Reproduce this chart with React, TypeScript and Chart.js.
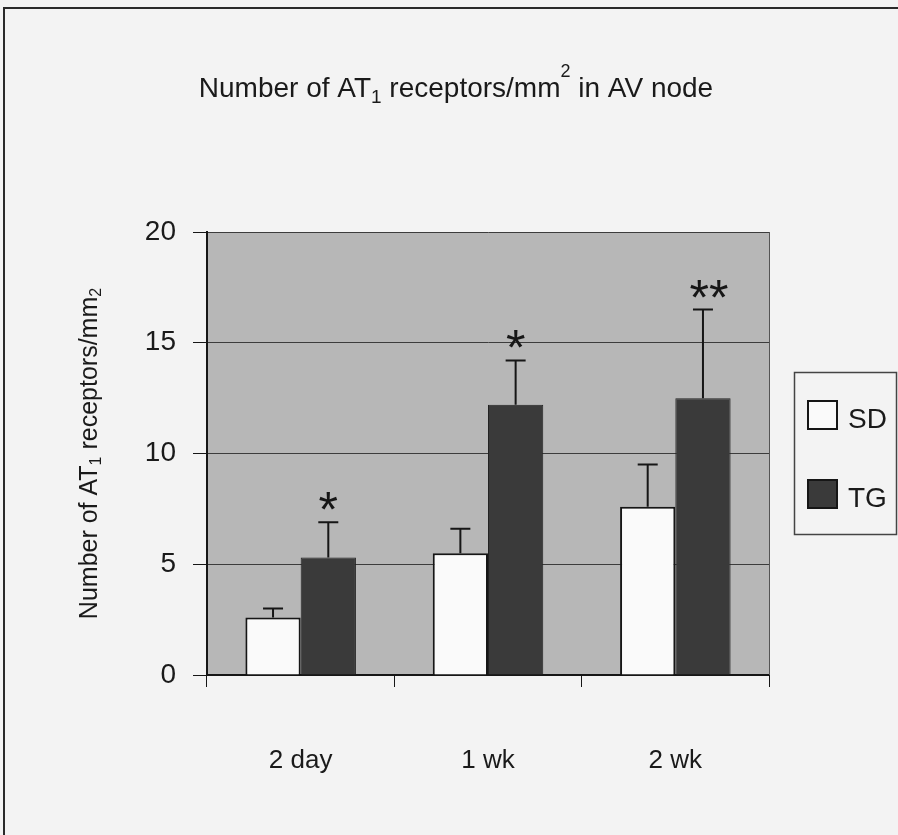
import React, { useEffect, useRef } from 'react';
import { Chart, registerables } from 'chart.js';

Chart.register(...registerables);

const categories = ['2 day', '1 wk', '2 wk'];
const seriesLabels = ['SD', 'TG'];
const sdValues = [2.6, 5.5, 7.6];
const sdErrors = [0.4, 1.1, 1.9];
const tgValues = [5.3, 12.2, 12.5];
const tgErrors = [1.6, 2.0, 4.0];
const tgSignificance = ['*', '*', '**'];
const yMin = 0;
const yMax = 20;
const yStep = 5;

const FONT = '"Liberation Sans", Arial, Helvetica, sans-serif';
const PAGE_BG = '#f3f3f3';
const PLOT_BG = '#b7b7b7';
const SD_FILL = '#fafafa';
const TG_FILL = '#3a3a3a';
const INK = '#161616';

type Piece = { t: string; size: number; dy: number };

function drawPieces(ctx: CanvasRenderingContext2D, pieces: Piece[], x: number, y: number, center: boolean) {
  let total = 0;
  for (const p of pieces) {
    ctx.font = `${p.size}px ${FONT}`;
    total += ctx.measureText(p.t).width;
  }
  let cx = center ? x - total / 2 : x;
  for (const p of pieces) {
    ctx.font = `${p.size}px ${FONT}`;
    ctx.fillText(p.t, cx, y + p.dy);
    cx += ctx.measureText(p.t).width;
  }
}

const decorPlugin = {
  id: 'decor',
  beforeDraw(chart: any) {
    const { ctx, chartArea, width, height } = chart;
    ctx.save();
    ctx.fillStyle = PAGE_BG;
    ctx.fillRect(0, 0, width, height);
    // outer frame of the figure
    ctx.strokeStyle = '#2a2a2a';
    ctx.lineWidth = 2;
    ctx.beginPath();
    ctx.moveTo(4, height);
    ctx.lineTo(4, 8);
    ctx.lineTo(width, 8);
    ctx.stroke();
    // plot area fill
    ctx.fillStyle = PLOT_BG;
    ctx.fillRect(chartArea.left, chartArea.top, chartArea.right - chartArea.left, chartArea.bottom - chartArea.top);
    ctx.restore();
  },
  afterDatasetsDraw(chart: any) {
    const { ctx } = chart;
    const yScale = chart.scales.y;
    const errs = [sdErrors, tgErrors];
    ctx.save();
    ctx.strokeStyle = INK;
    ctx.lineWidth = 2;
    chart.data.datasets.forEach((ds: any, di: number) => {
      const meta = chart.getDatasetMeta(di);
      meta.data.forEach((el: any, i: number) => {
        const v = ds.data[i];
        const top = yScale.getPixelForValue(v + errs[di][i]);
        ctx.beginPath();
        ctx.moveTo(el.x, el.y);
        ctx.lineTo(el.x, top);
        ctx.moveTo(el.x - 10, top);
        ctx.lineTo(el.x + 10, top);
        ctx.stroke();
        if (di === 1) {
          const mark = tgSignificance[i];
          ctx.font = `50px ${FONT}`;
          ctx.fillStyle = INK;
          ctx.textAlign = 'center';
          ctx.textBaseline = 'alphabetic';
          const m = ctx.measureText(mark);
          const baseline = top - 12 - m.actualBoundingBoxDescent;
          ctx.fillText(mark, el.x + (mark.length > 1 ? 6 : 0), baseline);
        }
      });
    });
    ctx.restore();
  },
  afterDraw(chart: any) {
    const { ctx, chartArea } = chart;
    ctx.save();
    // right edge of the plot area
    ctx.strokeStyle = '#555';
    ctx.lineWidth = 1;
    ctx.beginPath();
    ctx.moveTo(chartArea.right + 0.5, chartArea.top);
    ctx.lineTo(chartArea.right + 0.5, chartArea.bottom);
    ctx.stroke();

    ctx.fillStyle = '#1a1a1a';
    ctx.textAlign = 'left';
    ctx.textBaseline = 'alphabetic';
    // main title
    drawPieces(
      ctx,
      [
        { t: 'Number of AT', size: 28, dy: 0 },
        { t: '1', size: 19, dy: 6 },
        { t: ' receptors/mm', size: 28, dy: 0 },
        { t: '2', size: 18, dy: -20 },
        { t: ' in AV node', size: 28, dy: 0 },
      ],
      456,
      97,
      true
    );
    // y axis title (rotated)
    ctx.save();
    ctx.translate(97, (chartArea.top + chartArea.bottom) / 2);
    ctx.rotate(-Math.PI / 2);
    drawPieces(
      ctx,
      [
        { t: 'Number of AT', size: 25, dy: 0 },
        { t: '1', size: 16, dy: 4 },
        { t: ' receptors/mm', size: 25, dy: 0 },
        { t: '2', size: 16, dy: 4 },
      ],
      0,
      0,
      true
    );
    ctx.restore();

    // legend
    const lx = 794;
    const ly = 372;
    ctx.fillStyle = PAGE_BG;
    ctx.fillRect(lx, ly, 102, 162);
    ctx.strokeStyle = '#444';
    ctx.lineWidth = 1.5;
    ctx.strokeRect(lx + 0.5, ly + 0.5, 102, 162);
    const ds = chart.data.datasets;
    const rows = [401, 480];
    ds.forEach((d: any, i: number) => {
      const sy = rows[i];
      ctx.fillStyle = d.backgroundColor;
      ctx.fillRect(808, sy, 29, 28);
      ctx.strokeStyle = INK;
      ctx.lineWidth = 2;
      ctx.strokeRect(808, sy, 29, 28);
      ctx.fillStyle = '#1a1a1a';
      ctx.font = `28px ${FONT}`;
      ctx.fillText(d.label, 848, sy + 27);
    });
    ctx.restore();
  },
};

export default function App() {
  const ref = useRef<HTMLCanvasElement | null>(null);

  useEffect(() => {
    if (!ref.current) return;
    const chart = new Chart(ref.current, {
      type: 'bar',
      data: {
        labels: categories,
        datasets: [
          {
            label: seriesLabels[0],
            data: sdValues,
            backgroundColor: SD_FILL,
            borderColor: INK,
            borderWidth: 2,
            categoryPercentage: 0.59,
            barPercentage: 1.0,
          },
          {
            label: seriesLabels[1],
            data: tgValues,
            backgroundColor: TG_FILL,
            borderColor: '#222',
            borderWidth: 1,
            categoryPercentage: 0.59,
            barPercentage: 1.0,
          },
        ],
      },
      options: {
        responsive: false,
        animation: false,
        layout: { padding: { left: 0, top: 232, right: 129, bottom: 0 } },
        plugins: {
          legend: { display: false },
          title: { display: false },
          tooltip: { enabled: false },
        },
        scales: {
          x: {
            afterFit: (scale: any) => {
              scale.height = 160;
            },
            grid: {
              display: true,
              drawOnChartArea: false,
              drawTicks: true,
              tickLength: 12,
              tickColor: INK,
              offset: true,
            },
            border: { display: true, color: INK, width: 2 },
            ticks: {
              color: '#1a1a1a',
              font: { family: FONT, size: 26 },
              padding: 58,
              maxRotation: 0,
            },
          },
          y: {
            min: yMin,
            max: yMax,
            afterFit: (scale: any) => {
              scale.width = 207;
            },
            grid: {
              color: '#3c3c3c',
              lineWidth: 1,
              tickColor: INK,
              tickLength: 14,
            },
            border: { display: true, color: INK, width: 2 },
            ticks: {
              stepSize: yStep,
              color: '#1a1a1a',
              font: { family: FONT, size: 28 },
              padding: 17,
            },
          },
        },
      },
      plugins: [decorPlugin],
    });
    return () => chart.destroy();
  }, []);

  return (
    <div style={{ position: 'absolute', left: 0, top: 0, width: 898, height: 835 }}>
      <canvas ref={ref} width={898} height={835} />
    </div>
  );
}
